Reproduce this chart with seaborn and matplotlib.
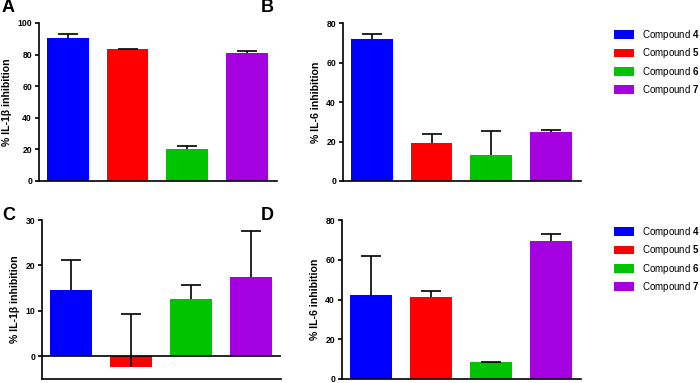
import matplotlib
matplotlib.use("Agg")
import matplotlib.pyplot as plt
import seaborn as sns
from matplotlib.patches import Patch

compounds = ["Compound 4", "Compound 5", "Compound 6", "Compound 7"]
numbers = ["4", "5", "6", "7"]
colors = ["#0000FF", "#FF0000", "#00C400", "#A400E0"]

a_vals = [90.8, 83.5, 20.0, 81.0]
a_err = [2.2, 0.3, 2.4, 1.4]
b_vals = [72.2, 19.1, 13.0, 25.0]
b_err = [2.5, 4.9, 12.4, 0.9]
c_vals = [14.5, -2.3, 12.7, 17.5]
c_err = [6.8, 11.7, 2.9, 10.1]
d_vals = [42.3, 41.1, 8.5, 69.6]
d_err = [19.6, 3.3, 0.2, 3.5]

sns.set_style("ticks")
plt.rcParams["font.family"] = ["Liberation Sans", "DejaVu Sans"]
plt.rcParams["mathtext.fontset"] = "custom"
plt.rcParams["mathtext.rm"] = "Liberation Sans"
plt.rcParams["mathtext.bf"] = "Liberation Sans:bold"
for k in ["text.color", "axes.labelcolor", "xtick.color", "ytick.color", "axes.edgecolor"]:
    plt.rcParams[k] = "black"

fig = plt.figure(figsize=(7, 3.83), dpi=100)
W, H = 700, 383

def make_ax(l, r, t, b):
    return fig.add_axes([l / W, (H - b) / H, (r - l) / W, (b - t) / H])

panels = [
    ("A", make_ax(39, 277, 23, 181), a_vals, a_err, (0, 100), [0, 20, 40, 60, 80, 100], "% IL-1β inhibition", (2, 8)),
    ("B", make_ax(343, 581, 23.3, 181), b_vals, b_err, (0, 80), [0, 20, 40, 60, 80], "% IL-6 inhibition", (261, 8)),
    ("C", make_ax(42, 281, 220, 379), c_vals, c_err, (-5, 30), [0, 10, 20, 30], "% IL-1β inhibition", (2, 215)),
    ("D", make_ax(342, 581, 220, 379), d_vals, d_err, (0, 80), [0, 20, 40, 60, 80], "% IL-6 inhibition", (261, 215)),
]

for letter, ax, vals, errs, ylim, ticks, ylabel, lpos in panels:
    sns.barplot(x=compounds, y=vals, hue=compounds, palette=colors, ax=ax,
                width=0.7, legend=False, errorbar=None, saturation=1, linewidth=0)
    eb = ax.errorbar(range(4), vals, yerr=[[0] * 4, errs], fmt="none",
                     ecolor="black", elinewidth=1.2, capsize=7, capthick=1.2, zorder=5)
    eb[1][0].set_visible(False)
    ax.set_xlim(-0.48, 3.5)
    ax.set_ylim(*ylim)
    ax.set_yticks(ticks)
    ax.set_yticklabels([str(t) for t in ticks], fontsize=6.2, fontweight="bold")
    ax.set_xticks([])
    ax.set_xlabel("")
    ax.set_ylabel(ylabel, fontsize=7.6, fontweight="bold", labelpad=4)
    for s in ["top", "right"]:
        ax.spines[s].set_visible(False)
    for s in ["left", "bottom"]:
        ax.spines[s].set_linewidth(1.2)
        ax.spines[s].set_color("black")
    ax.tick_params(axis="y", length=3, width=1.2, pad=2, color="black")
    if ylim[0] < 0:
        ax.axhline(0, color="black", lw=1.2, zorder=4)
    fig.text(lpos[0] / W, 1 - lpos[1] / H, letter, fontsize=13, fontweight="bold",
             va="center", ha="left")

handles = [Patch(facecolor=c, edgecolor="none") for c in colors]
labels = ["Compound $\\mathbf{%s}$" % n for n in numbers]
for top in (28, 225):
    fig.legend(handles, labels, loc="upper left", bbox_to_anchor=(614 / W, 1 - top / H),
               frameon=False, fontsize=7, handlelength=2.1, handleheight=1.0,
               handletextpad=0.8, labelspacing=0.45, borderpad=0, borderaxespad=0)

fig.savefig("out.png", dpi=100)
